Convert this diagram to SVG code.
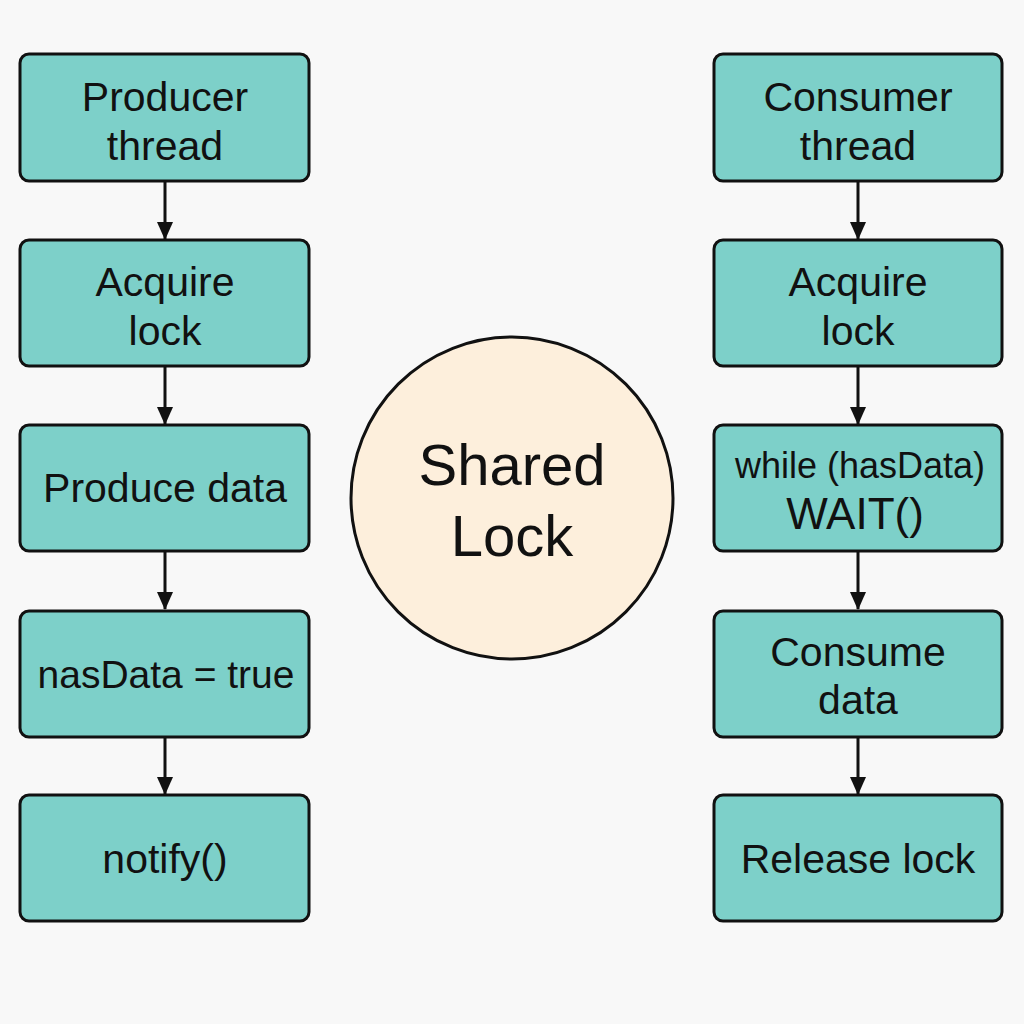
<svg xmlns="http://www.w3.org/2000/svg" width="1024" height="1024" viewBox="0 0 1024 1024">
<defs>
<style>
.box{fill:#7dd0c9;stroke:#111;stroke-width:3}
.t{font-family:"Liberation Sans",Arial,sans-serif;font-size:41px;fill:#111;text-anchor:middle}
.s{font-size:36px}
.w{font-size:44px}
.n{font-size:39px}
.big{font-size:58px}
.c{stroke:#111;stroke-width:3;fill:none;marker-end:url(#ah)}
</style>
<marker id="ah" markerWidth="18" markerHeight="18" viewBox="0 0 18 18" refX="17" refY="9" orient="auto" markerUnits="userSpaceOnUse">
<path d="M0,1 L18,9 L0,17 Z" fill="#111"/>
</marker>
</defs>
<rect width="1024" height="1024" fill="#f8f8f8"/>
<g id="connectors">
<line class="c" x1="165" y1="181" x2="165" y2="239"/>
<line class="c" x1="165" y1="366" x2="165" y2="424"/>
<line class="c" x1="165" y1="551" x2="165" y2="609"/>
<line class="c" x1="165" y1="737" x2="165" y2="794"/>
<line class="c" x1="858" y1="181" x2="858" y2="239"/>
<line class="c" x1="858" y1="366" x2="858" y2="424"/>
<line class="c" x1="858" y1="551" x2="858" y2="609"/>
<line class="c" x1="858" y1="737" x2="858" y2="794"/>
</g>
<g id="producer-thread"><rect class="box" x="20" y="54" width="289" height="127" rx="9"/><text class="t" x="165" y="111">Producer</text><text class="t" x="165" y="160">thread</text></g>
<g id="p-acquire"><rect class="box" x="20" y="240" width="289" height="126" rx="9"/><text class="t" x="165" y="296">Acquire</text><text class="t" x="165" y="345">lock</text></g>
<g id="p-produce"><rect class="box" x="20" y="425" width="289" height="126" rx="9"/><text class="t" x="165" y="502">Produce data</text></g>
<g id="p-hasdata"><rect class="box" x="20" y="611" width="289" height="126" rx="9"/><text class="t n" x="166" y="688">nasData = true</text></g>
<g id="p-notify"><rect class="box" x="20" y="795" width="289" height="126" rx="9"/><text class="t" x="165" y="873">notify()</text></g>
<g id="shared-lock"><circle cx="512" cy="498" r="161" fill="#fdefdc" stroke="#111" stroke-width="3"/><text class="t big" x="512" y="485">Shared</text><text class="t big" x="512" y="556">Lock</text></g>
<g id="consumer-thread"><rect class="box" x="714" y="54" width="288" height="127" rx="9"/><text class="t" x="858" y="111">Consumer</text><text class="t" x="858" y="160">thread</text></g>
<g id="c-acquire"><rect class="box" x="714" y="240" width="288" height="126" rx="9"/><text class="t" x="858" y="296">Acquire</text><text class="t" x="858" y="345">lock</text></g>
<g id="c-wait"><rect class="box" x="714" y="425" width="288" height="126" rx="9"/><text class="t s" x="860" y="478">while (hasData)</text><text class="t w" x="855" y="529">WAIT()</text></g>
<g id="c-consume"><rect class="box" x="714" y="611" width="288" height="126" rx="9"/><text class="t" x="858" y="666">Consume</text><text class="t" x="858" y="714">data</text></g>
<g id="c-release"><rect class="box" x="714" y="795" width="288" height="126" rx="9"/><text class="t" x="858" y="873">Release lock</text></g>
</svg>
